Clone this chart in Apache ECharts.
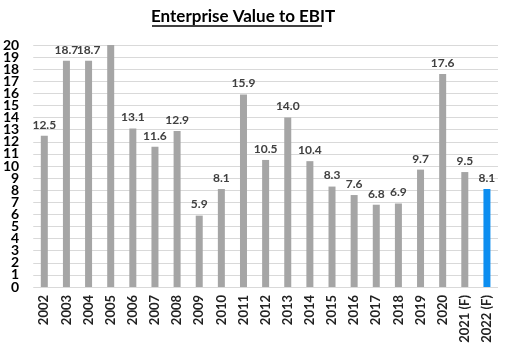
<!DOCTYPE html>
<html>
<head>
<meta charset="utf-8">
<script src="https://cdn.jsdelivr.net/npm/echarts@6/dist/echarts.min.js"></script>
<style>
  html, body { margin: 0; padding: 0; background: #fff; }
  #chart { width: 507px; height: 348px; }
</style>
</head>
<body>
<div id="chart"></div>
<script>
  // 年份
  var years = ['2002', '2003', '2004', '2005', '2006', '2007', '2008', '2009', '2010', '2011',
    '2012', '2013', '2014', '2015', '2016', '2017', '2018', '2019', '2020', '2021 (F)', '2022 (F)'];
  // EV / EBIT，2005 超出坐标轴上限被截断
  var evEbit = [12.5, 18.7, 18.7, 22.0, 13.1, 11.6, 12.9, 5.9, 8.1, 15.9,
    10.5, 14.0, 10.4, 8.3, 7.6, 6.8, 6.9, 9.7, 17.6, 9.5, 8.1];
  var clippedYears = ['2005'];
  var highlightYears = ['2022 (F)'];
  var yMin = 0, yMax = 20;

  var font = 'Lato, "Open Sans", sans-serif';
  var chart = echarts.init(document.getElementById('chart'));

  var seriesData = evEbit.map(function (v, i) {
    var item = {
      value: v,
      itemStyle: { color: highlightYears.indexOf(years[i]) > -1 ? '#0d8ef0' : '#a5a5a5' }
    };
    if (clippedYears.indexOf(years[i]) > -1) item.label = { show: false };
    return item;
  });

  var yLabel = {
    margin: 14,
    fontFamily: font,
    fontSize: 14,
    fontWeight: 'bold',
    color: '#000'
  };

  var option = {
    animation: false,
    // 标题 + 下划线
    graphic: [{
      type: 'text',
      left: 151,
      top: 8,
      style: {
        text: 'Enterprise Value to EBIT',
        fontFamily: font,
        fontSize: 17,
        fontWeight: 'bold',
        fill: '#000'
      }
    }, {
      type: 'line',
      shape: { x1: 152, y1: 26, x2: 322, y2: 26 },
      style: { stroke: '#000', lineWidth: 1.3 }
    }],
    grid: { left: 32, right: 9, top: 45, bottom: 61 },
    xAxis: {
      type: 'category',
      data: years,
      axisLine: { show: false },
      axisTick: { show: false },
      axisLabel: {
        rotate: 90,
        interval: 0,
        margin: 8,
        fontFamily: font,
        fontSize: 13,
        fontWeight: 'bold',
        color: '#222'
      }
    },
    yAxis: [{
      type: 'value',
      min: yMin,
      max: yMax,
      interval: 1,
      axisLine: { show: false },
      axisTick: { show: false },
      splitLine: { lineStyle: { color: '#d9d9d9', width: 1 } },
      axisLabel: yLabel
    }, {
      // 标签太密时 0 和 20 会被自动隐藏，单独用一条轴补上
      type: 'value',
      position: 'left',
      min: yMin,
      max: yMax,
      interval: yMax - yMin,
      axisLine: { show: false },
      axisTick: { show: false },
      splitLine: { show: false },
      axisLabel: Object.assign({ showMinLabel: true, showMaxLabel: true }, yLabel)
    }],
    series: [{
      type: 'bar',
      data: seriesData,
      barWidth: 7,
      clip: true,
      label: {
        show: true,
        position: 'top',
        distance: 5,
        formatter: function (p) { return p.value.toFixed(1); },
        fontFamily: font,
        fontSize: 12,
        fontWeight: 'bold',
        color: '#404040'
      }
    }]
  };

  chart.setOption(option);
</script>
</body>
</html>
